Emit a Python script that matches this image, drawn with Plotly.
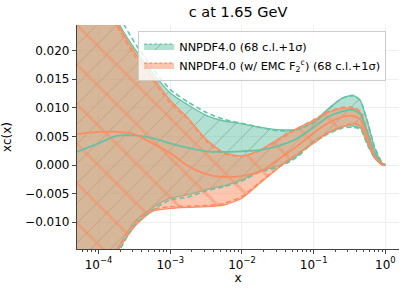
import plotly.graph_objects as go

# x grid (values read at log-spaced positions)
x = [5.0e-5, 1.0e-4, 1.78e-4, 3.16e-4, 5.62e-4, 1.0e-3, 1.78e-3, 3.16e-3, 5.62e-3,
     1.0e-2, 1.78e-2, 3.16e-2, 5.62e-2, 0.1, 0.158, 0.251, 0.355, 0.447, 0.562,
     0.708, 0.891, 1.0]

# NNPDF4.0
g_up68 = [0.042, 0.033, 0.0255, 0.0204, 0.0162, 0.0126, 0.0105, 0.0087, 0.0077, 0.0072, 0.0066,
          0.0062, 0.0062, 0.0075, 0.0098, 0.0117, 0.0122, 0.0113, 0.0075, 0.0030, 0.0004, 0.0]
g_lo68 = [-0.030, -0.022, -0.0150, -0.0100, -0.0075, -0.0058, -0.0052, -0.0043, -0.0036, -0.0026,
          -0.0010, -0.0002, 0.0014, 0.0042, 0.0056, 0.0067, 0.0068, 0.0065, 0.0037, 0.0013, 0.0001, 0.0]
g_up1s = [0.044, 0.035, 0.0270, 0.0215, 0.0170, 0.0132, 0.0110, 0.0092, 0.0080, 0.0073, 0.0066,
          0.0060, 0.0061, 0.0074, 0.0097, 0.0117, 0.0121, 0.0113, 0.0077, 0.0032, 0.0005, 0.0]
g_lo1s = [-0.031, -0.023, -0.0160, -0.0105, -0.0079, -0.0061, -0.0056, -0.0045, -0.0038, -0.0028,
          -0.0012, -0.0004, 0.0012, 0.0040, 0.0054, 0.0065, 0.0066, 0.0063, 0.0035, 0.0012, 0.0001, 0.0]
g_cv = [0.0023, 0.0038, 0.0051, 0.0052, 0.0047, 0.0038, 0.0030, 0.0024, 0.0023, 0.0024, 0.0026,
        0.0033, 0.0045, 0.0066, 0.0084, 0.0094, 0.0096, 0.0089, 0.0056, 0.0021, 0.0003, 0.0]

# NNPDF4.0 (w/ EMC F2c)
o_up68 = [0.042, 0.033, 0.0252, 0.0198, 0.0155, 0.0113, 0.0082, 0.0045, 0.0022, 0.0016, 0.0026,
          0.0045, 0.0063, 0.0078, 0.0092, 0.0099, 0.0099, 0.0092, 0.0058, 0.0020, 0.0003, 0.0]
o_lo68 = [-0.031, -0.023, -0.0155, -0.0108, -0.0081, -0.0076, -0.0074, -0.0073, -0.0070, -0.0058,
          -0.0032, -0.0006, 0.0017, 0.0038, 0.0056, 0.0066, 0.0072, 0.0068, 0.0040, 0.0012, 0.0001, 0.0]
o_up1s = [0.041, 0.032, 0.0245, 0.0192, 0.0150, 0.0108, 0.0080, 0.0042, 0.0020, 0.0015, 0.0025,
          0.0043, 0.0062, 0.0079, 0.0093, 0.0101, 0.0101, 0.0094, 0.0060, 0.0021, 0.0003, 0.0]
o_lo1s = [-0.030, -0.022, -0.0150, -0.0103, -0.0078, -0.0073, -0.0072, -0.0071, -0.0067, -0.0055,
          -0.0030, -0.0005, 0.0018, 0.0039, 0.0057, 0.0067, 0.0073, 0.0069, 0.0041, 0.0013, 0.0001, 0.0]
o_cv = [0.0054, 0.0058, 0.0058, 0.0054, 0.0038, 0.0021, -0.0002, -0.0016, -0.0021, -0.0019, -0.0012,
        0.0009, 0.0031, 0.0056, 0.0073, 0.0084, 0.0086, 0.0080, 0.0048, 0.0016, 0.0002, 0.0]

names = ["NNPDF4.0 (68 c.l.+1σ)", "NNPDF4.0 (w/ EMC F<sub>2</sub><sup>c</sup>) (68 c.l.+1σ)"]
title = "c at 1.65 GeV"
xtick_vals = [1e-4, 1e-3, 1e-2, 1e-1, 1.0]
xtick_text = ["10<sup>−4</sup>", "10<sup>−3</sup>", "10<sup>−2</sup>", "10<sup>−1</sup>", "10<sup>0</sup>"]

GREEN = "#66c2a5"
ORANGE = "#fc8d62"
G_FILL = "rgba(102,194,165,0.5)"
O_FILL = "rgba(252,141,98,0.5)"
G_PAT = dict(shape="/", bgcolor=G_FILL, fgcolor="rgba(90,100,80,0.8)", size=14, solidity=0.07, fillmode="overlay")
O_PAT = dict(shape="\\", bgcolor=O_FILL, fgcolor="rgba(252,141,98,1)", size=28, solidity=0.1, fillmode="overlay")

fig = go.Figure()
SH = dict(shape="spline", smoothing=0.6)

def band(lo, up, col, pat):
    fig.add_trace(go.Scatter(x=x, y=lo, mode="lines", line=dict(color=col, width=1.3, **SH),
                             showlegend=False, hoverinfo="skip"))
    fig.add_trace(go.Scatter(x=x, y=up, mode="lines", line=dict(color=col, width=1.3, **SH),
                             fill="tonexty", fillcolor=col, fillpattern=pat,
                             showlegend=False, hoverinfo="skip"))

band(g_lo68, g_up68, GREEN, G_PAT)
band(o_lo68, o_up68, ORANGE, O_PAT)

for ys, col in [(g_up1s, GREEN), (g_lo1s, GREEN), (o_up1s, ORANGE), (o_lo1s, ORANGE)]:
    fig.add_trace(go.Scatter(x=x, y=ys, mode="lines",
                             line=dict(color=col, width=1.6, dash="5px,3px", **SH),
                             showlegend=False, hoverinfo="skip"))
for ys, col in [(g_cv, GREEN), (o_cv, ORANGE)]:
    fig.add_trace(go.Scatter(x=x, y=ys, mode="lines", line=dict(color=col, width=1.8, **SH),
                             showlegend=False, hoverinfo="skip"))

# legend entries
for nm, col, pat in [(names[0], GREEN, G_PAT), (names[1], ORANGE, O_PAT)]:
    fig.add_trace(go.Scatter(x=[None], y=[None], mode="lines", name=nm,
                             line=dict(color=col, width=1.3, dash="3px,2px"),
                             fill="toself", fillcolor=col, fillpattern=pat))

fig.update_layout(
    width=407, height=292,
    margin=dict(l=77, r=8, t=25, b=43),
    paper_bgcolor="white", plot_bgcolor="white",
    font=dict(family="DejaVu Sans", size=12, color="black"),
    title=dict(text=title, x=0.585, xanchor="center", y=0.959, yanchor="middle",
               font=dict(size=14.5)),
    legend=dict(x=0.19, y=0.975, xanchor="left", yanchor="top", traceorder="normal",
                bgcolor="rgba(255,255,255,0.8)", bordercolor="#cccccc", borderwidth=1,
                font=dict(size=11.3), tracegroupgap=0, itemwidth=30),
    xaxis=dict(type="log", range=[-4.30, 0.19], tickvals=xtick_vals, ticktext=xtick_text,
               showline=True, linecolor="#444", linewidth=1.2,
               ticks="outside", ticklen=4, tickcolor="#444",
               showgrid=True, gridcolor="#eeeeee", gridwidth=1, zeroline=False,
               minor=dict(ticks="outside", ticklen=2, tickcolor="#444", dtick="D1", showgrid=False),
               title=dict(text="x", standoff=2, font=dict(size=12))),
    yaxis=dict(range=[-0.0147, 0.0245], tick0=0, dtick=0.005, tickformat=".3f",
               showline=True, linecolor="#444", linewidth=1.2,
               ticks="outside", ticklen=4, tickcolor="#444",
               showgrid=True, gridcolor="#eeeeee", gridwidth=1, zeroline=False,
               title=dict(text="xc(x)", standoff=10, font=dict(size=12))),
)

fig.write_html("out.html", config={"displayModeBar": False},
               post_script="document.body.style.margin='0';")
